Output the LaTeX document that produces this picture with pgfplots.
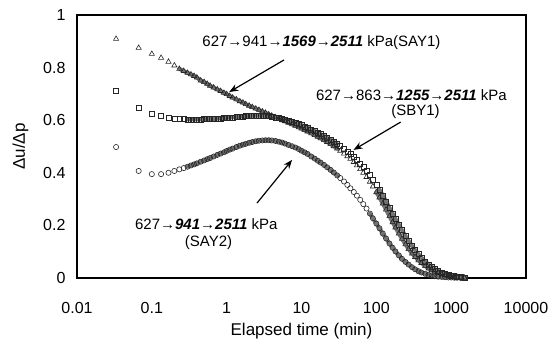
\documentclass[border=0pt]{standalone}
\usepackage{pgfplots}
\pgfplotsset{compat=1.18}
\usepackage{fontspec}
\setmainfont{Liberation Sans}
\usetikzlibrary{arrows.meta}

\pgfplotstableread{
t v
0.0333 0.909
0.0667 0.875
0.1 0.852
0.133 0.837
0.167 0.822
0.2 0.808
0.233 0.795
0.267 0.787
0.3 0.780
0.333 0.774
0.367 0.768
0.4 0.762
0.45 0.751
0.5 0.745
0.55 0.738
0.6 0.731
0.67 0.724
0.75 0.717
0.83 0.711
0.92 0.704
1.0 0.699
1.1 0.692
1.2 0.686
1.35 0.679
1.5 0.672
1.65 0.667
1.8 0.661
2.0 0.655
2.2 0.650
2.45 0.644
2.7 0.639
3.0 0.633
3.3 0.628
3.65 0.622
4.0 0.617
4.5 0.611
5.0 0.605
5.5 0.600
6.0 0.596
6.7 0.590
7.5 0.584
8.3 0.579
9.2 0.573
10 0.568
11 0.562
12 0.557
13.5 0.550
15 0.543
16.5 0.537
18 0.531
20 0.524
22 0.517
24.5 0.509
27 0.501
30 0.492
33 0.484
37 0.473
41 0.463
45 0.453
50 0.441
55 0.428
61 0.414
67 0.400
74 0.384
82 0.366
90 0.348
100 0.326
110 0.306
122 0.283
135 0.260
150 0.235
165 0.212
180 0.192
200 0.169
220 0.149
245 0.128
270 0.110
300 0.093
330 0.080
365 0.067
400 0.057
450 0.045
500 0.036
550 0.030
600 0.025
670 0.019
750 0.014
830 0.011
920 0.008
1000 0.006
1100 0.005
1200 0.004
1350 0.002
1500 0.001
}\sayone

\pgfplotstableread{
t v
0.0333 0.711
0.0667 0.647
0.1 0.624
0.133 0.615
0.167 0.610
0.2 0.607
0.233 0.605
0.267 0.604
0.3 0.603
0.333 0.603
0.367 0.603
0.4 0.603
0.45 0.603
0.5 0.604
0.55 0.604
0.6 0.605
0.67 0.605
0.75 0.606
0.83 0.607
0.92 0.608
1.0 0.609
1.1 0.610
1.2 0.611
1.35 0.612
1.5 0.613
1.65 0.614
1.8 0.615
2.0 0.616
2.2 0.617
2.45 0.617
2.7 0.617
3.0 0.617
3.3 0.616
3.65 0.615
4.0 0.613
4.5 0.611
5.0 0.608
5.5 0.605
6.0 0.602
6.7 0.598
7.5 0.594
8.3 0.590
9.2 0.585
10 0.581
11 0.576
12 0.572
13.5 0.565
15 0.559
16.5 0.553
18 0.547
20 0.540
22 0.533
24.5 0.526
27 0.518
30 0.509
33 0.501
37 0.491
41 0.481
45 0.471
50 0.460
55 0.449
61 0.436
67 0.423
74 0.408
82 0.391
90 0.375
100 0.355
110 0.336
122 0.314
135 0.291
150 0.267
165 0.245
180 0.225
200 0.203
220 0.182
245 0.160
270 0.141
300 0.122
330 0.106
365 0.091
400 0.078
450 0.063
500 0.051
550 0.042
600 0.035
670 0.027
750 0.021
830 0.016
920 0.012
1000 0.009
1100 0.007
1200 0.005
1350 0.003
1500 0.001
}\sbyone

\pgfplotstableread{
t v
0.0333 0.498
0.0667 0.407
0.1 0.395
0.133 0.395
0.167 0.400
0.2 0.407
0.233 0.413
0.267 0.418
0.3 0.423
0.333 0.428
0.367 0.432
0.4 0.436
0.45 0.442
0.5 0.447
0.55 0.452
0.6 0.456
0.67 0.462
0.75 0.468
0.83 0.473
0.92 0.478
1.0 0.483
1.1 0.488
1.2 0.492
1.35 0.498
1.5 0.503
1.65 0.507
1.8 0.510
2.0 0.514
2.2 0.517
2.45 0.520
2.7 0.522
3.0 0.523
3.3 0.524
3.65 0.524
4.0 0.523
4.5 0.521
5.0 0.518
5.5 0.515
6.0 0.511
6.7 0.506
7.5 0.501
8.3 0.496
9.2 0.490
10 0.484
11 0.478
12 0.472
13.5 0.462
15 0.454
16.5 0.446
18 0.439
20 0.430
22 0.421
24.5 0.411
27 0.401
30 0.390
33 0.380
37 0.367
41 0.354
45 0.341
50 0.327
55 0.313
61 0.297
67 0.281
74 0.264
82 0.245
90 0.227
100 0.207
110 0.189
122 0.169
135 0.150
150 0.131
165 0.115
180 0.101
200 0.086
220 0.073
245 0.061
270 0.051
300 0.041
330 0.033
365 0.026
400 0.021
450 0.016
500 0.012
550 0.009
600 0.007
670 0.005
750 0.004
830 0.003
920 0.002
1000 0.002
1100 0.001
1200 0.001
1350 0.000
1500 0.000
}\saytwo

\begin{document}
\begin{tikzpicture}
\useasboundingbox (-77pt,-65pt) rectangle (477pt,278pt);
\begin{axis}[
  scale only axis,
  width=449pt, height=263pt,
  xmode=log,
  xmin=0.01, xmax=10000,
  ymin=0, ymax=1,
  log basis x=10,
  xtick={0.01,0.1,1,10,100,1000,10000},
  xticklabels={0.01,0.1,1,10,100,1000,10000},
  ytick={0,0.2,0.4,0.6,0.8,1},
  yticklabels={0,0.2,0.4,0.6,0.8,1},
  minor xtick={},
  tick style={draw=none},
  axis line style={line width=1.1pt},
  tick label style={font=\fontsize{16}{16}\selectfont},
  xticklabel style={yshift=-21pt},
  yticklabel style={xshift=-8pt},
  xlabel={Elapsed time (min)},
  ylabel={Δu/Δp},
  xlabel style={font=\fontsize{17}{17}\selectfont, yshift=-2pt},
  ylabel style={font=\fontsize{17}{17}\selectfont, yshift=8pt},
  clip=false,
  band/.style={no marks, draw=black!55, line width=4pt, line join=round, line cap=round},
]
% gray bands drawn from the same data, behind the markers (densely sampled stretches)
\addplot[band, restrict expr to domain={\coordindex}{6:54}] table[x=t,y=v] {\sayone};
\addplot[band, restrict expr to domain={\coordindex}{66:100}] table[x=t,y=v] {\sayone};
\addplot[band, restrict expr to domain={\coordindex}{8:54}] table[x=t,y=v] {\sbyone};
\addplot[band, restrict expr to domain={\coordindex}{67:100}] table[x=t,y=v] {\sbyone};
\addplot[band, restrict expr to domain={\coordindex}{8:54}] table[x=t,y=v] {\saytwo};
\addplot[band, restrict expr to domain={\coordindex}{64:100}] table[x=t,y=v] {\saytwo};

\addplot[only marks, mark=triangle, mark size=3pt, mark options={draw=black!85, line width=0.6pt}] table[x=t,y=v] {\sayone};
\addplot[only marks, mark=square, mark size=2.5pt, mark options={draw=black!85, line width=0.6pt}] table[x=t,y=v] {\sbyone};
\addplot[only marks, mark=o, mark size=2.6pt, mark options={draw=black!85, line width=0.6pt}] table[x=t,y=v] {\saytwo};

\node[anchor=west, font=\fontsize{15}{15}\selectfont, inner sep=0pt] at (rel axis cs:0.279,0.894) {627→941{\bfseries→\itshape 1569→2511} kPa(SAY1)};
\node[anchor=west, font=\fontsize{15}{15}\selectfont, inner sep=0pt] at (rel axis cs:0.532,0.696) {627→863{\bfseries→\itshape 1255→2511} kPa};
\node[font=\fontsize{15}{15}\selectfont, inner sep=0pt] at (rel axis cs:0.754,0.631) {(SBY1)};
\node[anchor=west, font=\fontsize{15}{15}\selectfont, inner sep=0pt] at (rel axis cs:0.129,0.205) {627{\bfseries→\itshape 941→2511} kPa};
\node[font=\fontsize{15}{15}\selectfont, inner sep=0pt] at (rel axis cs:0.293,0.133) {(SAY2)};

\draw[line width=1.2pt, -{Stealth[length=9pt,width=7pt]}] (rel axis cs:0.461,0.829) -- (rel axis cs:0.339,0.707);
\draw[line width=1.2pt, -{Stealth[length=9pt,width=7pt]}] (rel axis cs:0.721,0.593) -- (rel axis cs:0.616,0.487);
\draw[line width=1.2pt, -{Stealth[length=9pt,width=7pt]}] (rel axis cs:0.401,0.285) -- (rel axis cs:0.479,0.449);
\end{axis}
\end{tikzpicture}
\end{document}
